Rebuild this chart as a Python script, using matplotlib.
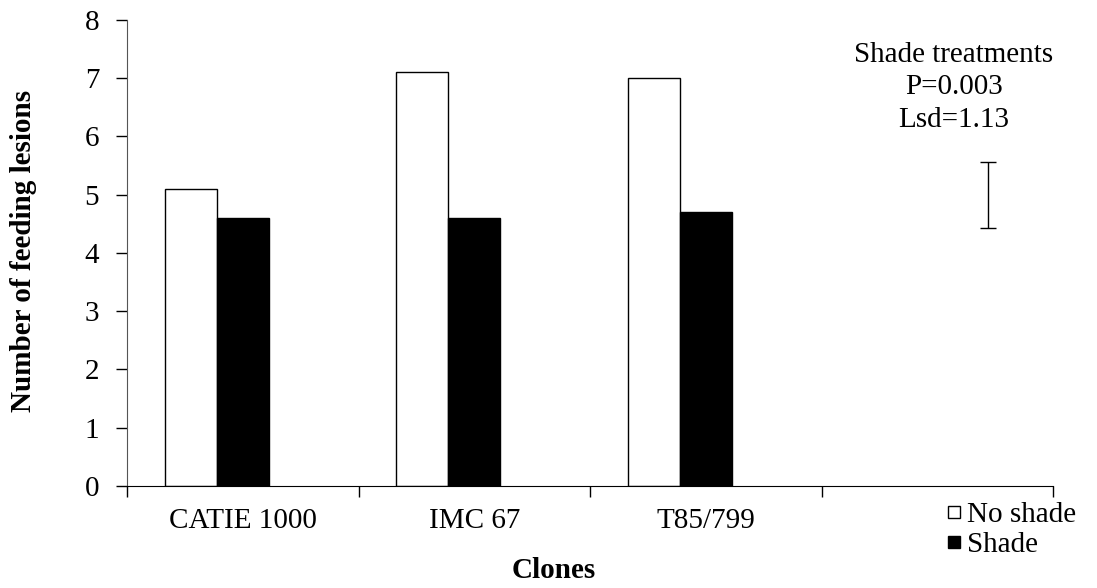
#!/usr/bin/env python3
"""Feeding lesions per clone, shade vs no shade."""

import matplotlib
matplotlib.use("Agg")
import matplotlib.pyplot as plt
from matplotlib.lines import Line2D
import numpy as np

# ---- data ----
clones = ["CATIE 1000", "IMC 67", "T85/799", ""]
no_shade = [5.1, 7.1, 7.0]
shade = [4.6, 4.6, 4.7]
lsd_centre = 5.0
lsd = 1.13
stats_text = "Shade treatments\nP=0.003\nLsd=1.13"

plt.rcParams["font.family"] = ["Liberation Serif", "DejaVu Serif"]
plt.rcParams["font.size"] = 21

fig = plt.figure(figsize=(10.97, 5.88), dpi=100)
ax = fig.add_axes([0.1158, 0.1735, 0.8442, 0.7925])

w = 0.225
x = np.arange(len(no_shade))
ax.bar(x - w, no_shade, width=w, align="center", color="white", edgecolor="black", linewidth=1.0)
ax.bar(x, shade, width=w, align="center", color="black", edgecolor="black", linewidth=1.0)

# Lsd bar + stats note
ax.errorbar([3.22], [lsd_centre], yerr=[lsd / 2], fmt="none", ecolor="black",
            elinewidth=1.0, capsize=6, capthick=1.0)
ax.text(3.07, 7.63, stats_text, ha="center", va="top", linespacing=1.33)

ax.set_xlim(-0.5, 3.5)
ax.set_ylim(0, 8)
ax.set_yticks(range(0, 9))
ax.set_xticks(np.arange(-0.5, 3.51, 1.0))
ax.set_xticklabels([])
ax.set_xticks(np.arange(4), minor=True)
ax.set_xticklabels(clones, minor=True)
ax.tick_params(axis="x", which="major", direction="out", length=8, width=1)
ax.tick_params(axis="x", which="minor", length=0, pad=16)
ax.tick_params(axis="y", direction="out", length=8, width=1, pad=12)

for side in ("top", "right"):
    ax.spines[side].set_visible(False)
ax.spines["left"].set_color("#555555")

ax.set_ylabel("Number of feeding lesions", fontweight="bold")
ax.yaxis.set_label_coords(-0.097, 0.505)
ax.set_xlabel("Clones", fontweight="bold")
ax.xaxis.set_label_coords(0.461, -0.152)

handles = [Line2D([], [], linestyle="none", marker="s", markersize=8.5,
                  markerfacecolor="white", markeredgecolor="black", markeredgewidth=1.0),
           Line2D([], [], linestyle="none", marker="s", markersize=8.5,
                  markerfacecolor="black", markeredgecolor="black", markeredgewidth=1.0)]
fig.legend(handles, ["No shade", "Shade"], loc="upper left",
           bbox_to_anchor=(947 / 1097, 1 - 502 / 588), frameon=False,
           handlelength=0.5, handletextpad=0.2,
           labelspacing=0.12, borderpad=0.0, borderaxespad=0.0, fontsize=21)

fig.savefig("out.png", dpi=100)
